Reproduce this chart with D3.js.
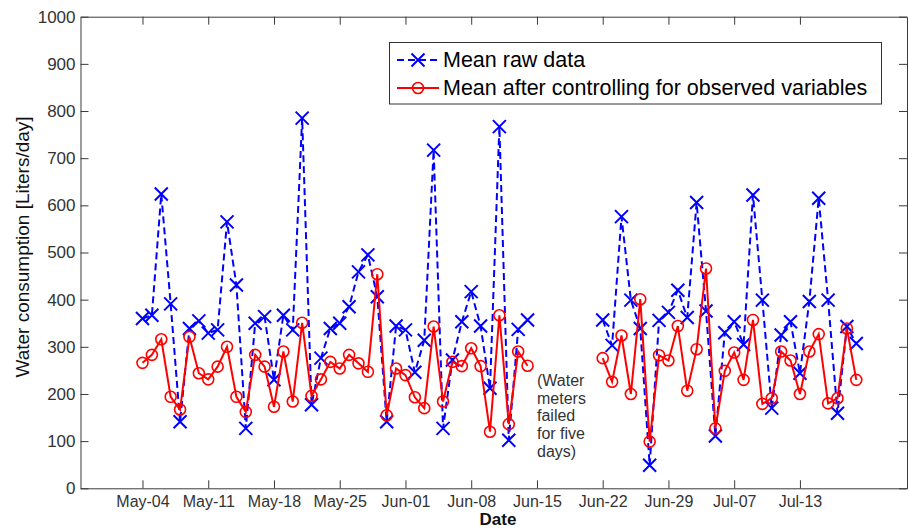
<!DOCTYPE html>
<html>
<head>
<meta charset="utf-8">
<script src="https://cdn.jsdelivr.net/npm/d3@7"></script>
<style>
  body { margin: 0; background: #fff; }
  svg { display: block; font-family: "Liberation Sans", Arial, sans-serif; }
</style>
</head>
<body>
<svg id="chart" width="908" height="529"></svg>
<script>
// days counted from May-04; null = no measurement (meters failed)
const days = d3.range(0, 77);

const rawMean = [
  360, 367, 624, 391, 141, 339, 355, 329, 336, 565,
  431, 127, 350, 364, 230, 367, 336, 785, 177, 276,
  339, 350, 385, 459, 495, 406, 141, 344, 336, 246,
  314, 717, 127, 272, 353, 417, 344, 212, 767, 102,
  337, 357, null, null, null, null, null, null, null, 357,
  303, 576, 399, 339, 49, 356, 373, 420, 362, 606,
  376, 111, 330, 353, 305, 622, 399, 170, 325, 353,
  244, 396, 615, 399, 159, 343, 307
];

const adjustedMean = [
  266, 283, 316, 194, 167, 321, 244, 231, 258, 300,
  194, 162, 283, 258, 173, 290, 184, 351, 196, 231,
  268, 254, 283, 265, 247, 454, 155, 254, 240, 193,
  170, 343, 184, 268, 259, 297, 259, 120, 367, 136,
  290, 260, null, null, null, null, null, null, null, 276,
  226, 324, 200, 401, 99, 282, 271, 344, 207, 295,
  466, 127, 249, 288, 230, 357, 179, 191, 290, 271,
  200, 290, 327, 180, 191, 339, 230
];

const tickDays = [0, 7, 14, 21, 28, 35, 42, 49, 56, 63, 70];
const tickLabels = ["May-04", "May-11", "May-18", "May-25", "Jun-01", "Jun-08",
                    "Jun-15", "Jun-22", "Jun-29", "Jul-07", "Jul-13"];
const yTicks = d3.range(0, 1001, 100);
const seriesNames = ["Mean raw data", "Mean after controlling for observed variables"];
const noteLines = ["(Water", "meters", "failed", "for five", "days)"];

const svg = d3.select("#chart");
const pLeft = 80.5, pRight = 907, pTop = 16.7, pBottom = 488.3;

const x = d3.scaleLinear().domain([-6.6, 81.4]).range([pLeft, pRight]);
const y = d3.scaleLinear().domain([0, 1000]).range([pBottom, pTop]);

const axisColor = "#3a3a3a";
const textColor = "#333";

// axes (box with inward ticks, like matlab)
const tickLen = 8;
svg.append("g")
  .attr("transform", `translate(0,${pBottom})`)
  .call(d3.axisBottom(x).tickValues(tickDays).tickFormat((d, i) => tickLabels[i])
    .tickSizeInner(-tickLen).tickSizeOuter(0).tickPadding(7))
  .call(g => g.select(".domain").attr("stroke", axisColor))
  .call(g => g.selectAll(".tick line").attr("stroke", axisColor))
  .call(g => g.selectAll(".tick text").attr("fill", textColor).style("font-size", "16px"));

svg.append("g")
  .attr("transform", `translate(0,${pTop})`)
  .call(d3.axisTop(x).tickValues(tickDays).tickFormat("").tickSizeInner(-tickLen).tickSizeOuter(0))
  .call(g => g.select(".domain").attr("stroke", axisColor))
  .call(g => g.selectAll(".tick line").attr("stroke", axisColor));

svg.append("g")
  .attr("transform", `translate(${pLeft},0)`)
  .call(d3.axisLeft(y).tickValues(yTicks).tickFormat(d3.format("d"))
    .tickSizeInner(-tickLen).tickSizeOuter(0).tickPadding(5))
  .call(g => g.select(".domain").attr("stroke", axisColor))
  .call(g => g.selectAll(".tick line").attr("stroke", axisColor))
  .call(g => g.selectAll(".tick text").attr("fill", textColor).style("font-size", "17px"));

svg.append("g")
  .attr("transform", `translate(${pRight},0)`)
  .call(d3.axisRight(y).tickValues(yTicks).tickFormat("").tickSizeInner(-tickLen).tickSizeOuter(0))
  .call(g => g.select(".domain").attr("stroke", axisColor))
  .call(g => g.selectAll(".tick line").attr("stroke", axisColor));

// axis titles
svg.append("text")
  .attr("x", 498)
  .attr("y", 525)
  .attr("text-anchor", "middle")
  .style("font-size", "17px")
  .style("font-weight", "bold")
  .attr("fill", "#111")
  .text("Date");

svg.append("text")
  .attr("transform", "rotate(-90)")
  .attr("x", -247)
  .attr("y", 29)
  .attr("text-anchor", "middle")
  .style("font-size", "19px")
  .attr("fill", "#111")
  .text("Water consumption [Liters/day]");

// series
const line = values => d3.line()
  .defined(d => values[d] != null)
  .x(d => x(d))
  .y(d => y(values[d]))(days);

const xMark = (g, cx, cy) => {
  const s = 6.5;
  g.append("path")
    .attr("d", `M${cx - s},${cy - s}L${cx + s},${cy + s}M${cx - s},${cy + s}L${cx + s},${cy - s}`)
    .attr("stroke", "#0000ff")
    .attr("stroke-width", 2)
    .attr("fill", "none");
};

const oMark = (g, cx, cy) => {
  g.append("circle")
    .attr("cx", cx).attr("cy", cy).attr("r", 5.5)
    .attr("fill", "none")
    .attr("stroke", "#ff0000")
    .attr("stroke-width", 1.6);
};

const plot = svg.append("g");

plot.append("path")
  .attr("d", line(rawMean))
  .attr("fill", "none")
  .attr("stroke", "#0000ff")
  .attr("stroke-width", 2)
  .attr("stroke-dasharray", "7,4");

const rawMarks = plot.append("g");
days.filter(d => rawMean[d] != null).forEach(d => xMark(rawMarks, x(d), y(rawMean[d])));

plot.append("path")
  .attr("d", line(adjustedMean))
  .attr("fill", "none")
  .attr("stroke", "#ff0000")
  .attr("stroke-width", 2);

const adjMarks = plot.append("g");
days.filter(d => adjustedMean[d] != null).forEach(d => oMark(adjMarks, x(d), y(adjustedMean[d])));

// note in the gap
svg.append("g")
  .selectAll("text")
  .data(noteLines)
  .join("text")
  .attr("x", 537)
  .attr("y", (d, i) => 386 + i * 17.7)
  .style("font-size", "16px")
  .attr("fill", textColor)
  .text(d => d);

// legend
const legend = svg.append("g");
legend.append("rect")
  .attr("x", 389.5).attr("y", 42.5)
  .attr("width", 492).attr("height", 61.5)
  .attr("fill", "#fff")
  .attr("stroke", "#333")
  .attr("stroke-width", 1);

const rowY = [60, 88];
legend.append("line")
  .attr("x1", 397).attr("x2", 439).attr("y1", rowY[0]).attr("y2", rowY[0])
  .attr("stroke", "#0000ff").attr("stroke-width", 2).attr("stroke-dasharray", "7,4");
xMark(legend, 418, rowY[0]);
legend.append("line")
  .attr("x1", 397).attr("x2", 439).attr("y1", rowY[1]).attr("y2", rowY[1])
  .attr("stroke", "#ff0000").attr("stroke-width", 2);
oMark(legend, 418, rowY[1]);

legend.selectAll("text.lab")
  .data(seriesNames)
  .join("text")
  .attr("class", "lab")
  .attr("x", 443)
  .attr("y", (d, i) => rowY[i] + 7)
  .style("font-size", "21.5px")
  .attr("fill", "#000")
  .text(d => d);
</script>
</body>
</html>
